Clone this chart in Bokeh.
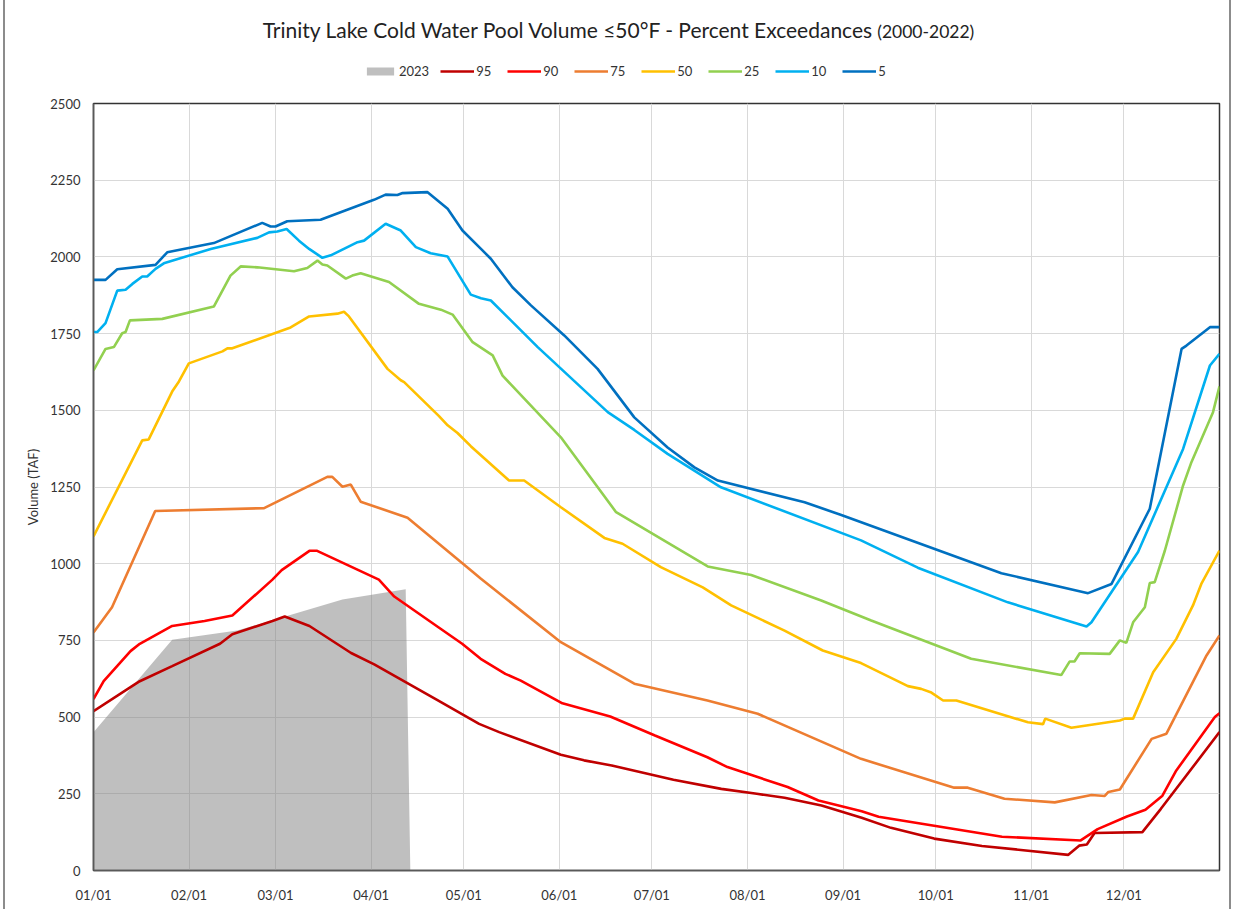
from bokeh.plotting import figure
from bokeh.models import Range1d, FixedTicker, Div
from bokeh.layouts import column
from bokeh.embed import file_html
from bokeh.resources import INLINE

# ---------------- data (day of year, volume TAF) ----------------
month_ticks = [0, 31, 59, 90, 120, 151, 181, 212, 243, 273, 304, 334]
month_labels = ["01/01", "02/01", "03/01", "04/01", "05/01", "06/01",
                "07/01", "08/01", "09/01", "10/01", "11/01", "12/01"]
y_ticks = [0, 250, 500, 750, 1000, 1250, 1500, 1750, 2000, 2250, 2500]

days_2023 = [0, 25.5, 46.6, 80.7, 101.2, 102.7]
vals_2023 = [451, 752, 782, 883, 917, 0]

days_95 = [0, 13, 15, 25.5, 41, 45, 58, 62, 70, 83.5, 91, 111.5, 125, 131.5, 151.5, 159, 168,
           188, 203.5, 215, 224, 236, 249, 258.5, 272.5, 288, 316, 319.5, 322, 324.5, 340, 346, 365]
vals_95 = [519, 604, 617, 666, 739, 770, 813, 828, 797, 709, 672, 555, 478, 451, 377, 359, 342,
           296, 266, 250, 237, 212, 172, 139, 104, 80, 51, 81, 85, 122, 125, 201, 451]

days_90 = [0, 3.3, 12, 15, 25.5, 36, 45, 58, 61, 70, 72.5, 92.5, 97.5, 112.5, 119.5, 125.5, 133.5,
           138.5, 152, 167.5, 182, 199, 205.5, 225, 235, 249, 254.5, 294.5, 320, 325.5, 335, 341,
           346.5, 351, 363.5, 365]
vals_90 = [559, 617, 715, 739, 797, 813, 831, 948, 979, 1042, 1042, 948, 893, 788, 739, 690, 641,
           619, 545, 502, 440, 369, 337, 272, 228, 193, 175, 110, 98, 135, 176, 198,
           244, 326, 500, 513]

days_75 = [0, 6, 20, 55.3, 75.8, 77.4, 80.7, 83.4, 86.6, 101.8, 122.3, 125.6, 151.5, 175.3, 199,
           215.3, 248.8, 279, 283.4, 295.3, 311.6, 323.5, 327.8, 329, 332.7, 343, 347.8, 360.8, 365]
vals_75 = [776, 858, 1172, 1181, 1283, 1283, 1251, 1258, 1202, 1150, 979, 951, 744, 609, 554,
           511, 364, 270, 270, 234, 222, 246, 243, 256, 264, 429, 446, 701, 766]

days_50 = [0, 15.8, 17.9, 25.5, 27.7, 30.9, 41.8, 43.4, 45, 63.9, 69.9, 79.1, 81.2, 82.8, 95.3,
           99.6, 100.7, 112, 114.8, 118, 122.3, 134.7, 139.6, 151.5, 165.6, 171.5, 183.9, 197.5,
           206.7, 224, 236.4, 248.8, 264, 268.3, 271.6, 275.4, 279.7, 302.9, 307.8, 308.5, 317,
           332.7, 334.3, 337, 343.5, 351, 356.4, 359.1, 365]
vals_50 = [1089, 1402, 1405, 1561, 1594, 1653, 1692, 1702, 1702, 1770, 1806, 1815, 1821, 1806, 1635,
           1598, 1592, 1481, 1451, 1426, 1383, 1271, 1271, 1184, 1084, 1065, 989, 923,
           864, 782, 717, 676, 601, 592, 580, 554, 554, 483, 477, 495, 465,
           489, 495, 495, 646, 755, 864, 934, 1043]

days_25 = [0, 3.9, 6.6, 9.3, 10.4, 11.8, 22.3, 39, 44.4, 47.7, 53.1, 65, 69.3, 72.6, 74.2, 75.8,
           81.8, 83.9, 86.6, 95.8, 105.5, 112.6, 116.4, 122.9, 129.4, 132.6, 151.5, 169.4, 199.1,
           213.2, 235.9, 252.1, 284.5, 313.7, 316.4, 318, 319.7, 329.4, 332.7, 334.8, 337, 340.8,
           342.4, 344, 347.3, 353.2, 355.9, 362.9, 365]
vals_25 = [1630, 1700, 1706, 1751, 1755, 1793, 1798, 1838, 1939, 1969, 1966, 1953, 1964, 1988, 1975, 1972,
           1929, 1939, 1947, 1918, 1847, 1828, 1812, 1722, 1679, 1613, 1412, 1168, 991,
           963, 880, 815, 690, 637, 681, 681, 708, 706, 750, 742, 809, 858,
           937, 940, 1043, 1255, 1331, 1494, 1578]

days_10 = [0, 1.2, 3.9, 7.7, 10.4, 12.6, 15.8, 17.4, 20.1, 22.8, 38, 53.1, 56.9, 59.6, 62.6, 66.6,
           69.9, 74.2, 76.9, 85.6, 87.7, 94.7, 99.6, 104.5, 109.3, 114.8, 122.3, 125.6, 128.8, 144,
           166.7, 175.3, 186.1, 203.4, 248.8, 267.2, 296.4, 321.9, 323.5, 338.6, 353.2, 361.9, 365]
vals_10 = [1755, 1755, 1784, 1890, 1893, 1912, 1936, 1936, 1961, 1979, 2026, 2062, 2080, 2083, 2091, 2053,
           2026, 1997, 2005, 2048, 2053, 2108, 2086, 2032, 2012, 2001, 1877, 1865, 1858, 1706,
           1494, 1436, 1358, 1249, 1076, 987, 874, 795, 809, 1038, 1374, 1646, 1684]

days_5 = [0, 3.9, 7.7, 20.1, 23.9, 39, 54.7, 57.4, 59, 62.8, 73.6, 90.9, 94.7, 98.5, 100.2, 108.3,
          114.8, 119.6, 125.6, 128.8, 135.8, 141.8, 152.6, 163.4, 175.3, 186.1, 194.8, 202.4, 230.5,
          242.4, 294.3, 322.4, 330, 342.4, 352.7, 354.3, 361.9, 365]
vals_5 = [1925, 1925, 1960, 1974, 2015, 2045, 2111, 2099, 2099, 2116, 2121, 2186, 2203, 2202, 2208, 2211,
          2157, 2086, 2026, 1994, 1901, 1842, 1744, 1635, 1477, 1379, 1314, 1271, 1200,
          1159, 969, 904, 934, 1179, 1700, 1711, 1771, 1771]

series = [
    ("95", days_95, vals_95, "#C00000"),
    ("90", days_90, vals_90, "#FF0000"),
    ("75", days_75, vals_75, "#ED7D31"),
    ("50", days_50, vals_50, "#FFC000"),
    ("25", days_25, vals_25, "#92D050"),
    ("10", days_10, vals_10, "#00B0F0"),
    ("5", days_5, vals_5, "#0070C0"),
]

title_main = "Trinity Lake Cold Water Pool Volume \u226450\u00b0F - Percent Exceedances"
title_sub = "(2000-2022)"

FONT = "Lato"
TXT = "#333333"
W = 1237
TITLE_H = 50
LEG_H = 42
MAIN_H = 909 - TITLE_H - LEG_H

# ---------------- title ----------------
title = Div(
    text=(f'<div style="width:{W}px;text-align:center;padding-top:17px;'
          f'font-family:{FONT};color:#222222;line-height:1.2;white-space:nowrap;">'
          f'<span style="font-size:21px;">{title_main}</span> '
          f'<span style="font-size:17.5px;margin-left:2px;">{title_sub}</span></div>'),
    width=W, height=TITLE_H, margin=0)

# ---------------- legend strip (same series, drawn outside its visible range) ----------------
lf = figure(width=W, height=LEG_H, output_backend="svg", toolbar_location=None,
            x_range=Range1d(0, 365), y_range=Range1d(5000, 6000), min_border=0, margin=0)
lf.axis.visible = False
lf.grid.visible = False
lf.outline_line_color = None
lf.background_fill_color = None
lf.border_fill_color = None
lf.varea(x=days_2023, y1=0, y2=vals_2023, fill_color="#808080", fill_alpha=0.5, legend_label="2023")
for name, d, v, c in series:
    lf.line(d, v, line_color=c, line_width=2.6, legend_label=name)
lg = lf.legend[0]
lg.orientation = "horizontal"
lg.location = (270, 13)
lg.glyph_width = 34
lg.glyph_height = 10
lg.label_height = 10
lg.label_standoff = 2
lg.spacing = 11
lg.padding = 0
lg.margin = 0
lg.border_line_color = None
lg.background_fill_alpha = 0
lg.label_text_font = FONT
lg.label_text_font_size = "13px"
lg.label_text_color = TXT

# ---------------- main chart ----------------
p = figure(width=W, height=MAIN_H, output_backend="svg", toolbar_location=None,
           x_range=Range1d(0, 365), y_range=Range1d(0, 2500),
           min_border_left=93, min_border_right=18, min_border_top=103 - TITLE_H - LEG_H,
           min_border_bottom=39, margin=0)
p.background_fill_color = "white"
p.border_fill_color = None
p.outline_line_color = "#333333"
p.outline_line_width = 1.5

p.varea(x=days_2023, y1=0, y2=vals_2023, fill_color="#808080", fill_alpha=0.5)
for name, d, v, c in series:
    p.line(d, v, line_color=c, line_width=2.6)

p.xaxis.ticker = FixedTicker(ticks=month_ticks)
p.xaxis.major_label_overrides = {t: l for t, l in zip(month_ticks, month_labels)}
p.yaxis.ticker = FixedTicker(ticks=y_ticks)
p.xgrid.ticker = FixedTicker(ticks=month_ticks)
p.ygrid.ticker = FixedTicker(ticks=y_ticks)
for g in (p.xgrid, p.ygrid):
    g.grid_line_color = "#D9D9D9"
    g.grid_line_width = 1
for ax in (p.xaxis, p.yaxis):
    ax.major_tick_line_color = None
    ax.minor_tick_line_color = None
    ax.axis_line_color = "#595959"
    ax.axis_line_width = 1.5
    ax.major_label_text_font = FONT
    ax.major_label_text_font_size = "13px"
    ax.major_label_text_color = TXT
p.xaxis.major_label_standoff = 10
p.yaxis.major_label_standoff = 7
p.yaxis.axis_label = "Volume (TAF)"
p.yaxis.axis_label_text_font = FONT
p.yaxis.axis_label_text_font_size = "13px"
p.yaxis.axis_label_text_font_style = "normal"
p.yaxis.axis_label_text_color = TXT
p.yaxis.axis_label_standoff = 6

# thin grey chart-area edges at left and right, as in the reference
layout = column(title, lf, p, spacing=0, margin=0,
                styles={"box-shadow": ("inset 3px 0 0 0 #ffffff, inset 5px 0 0 0 #8c8c8c, "
                                       "inset -6px 0 0 0 #ffffff, inset -8px 0 0 0 #8c8c8c")})
open("out.html", "w").write(file_html(layout, INLINE))
